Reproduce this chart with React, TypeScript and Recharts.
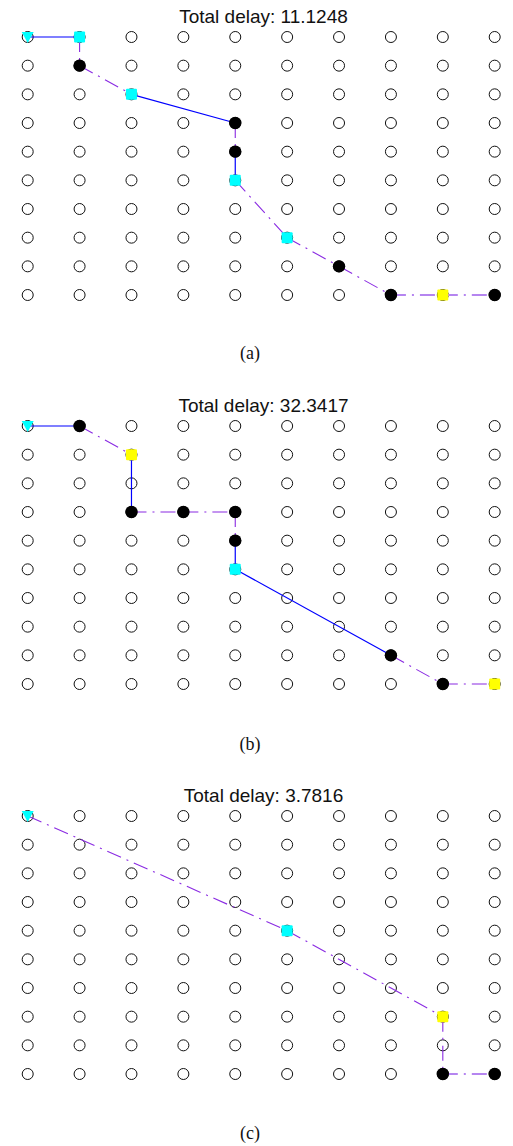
import { ScatterChart, Scatter, XAxis, YAxis } from "recharts";

const cols = [0, 1, 2, 3, 4, 5, 6, 7, 8, 9];
const rows = [0, 1, 2, 3, 4, 5, 6, 7, 8, 9];

const titles = ["Total delay: 11.1248", "Total delay: 32.3417", "Total delay: 3.7816"];
const captions = ["(a)", "(b)", "(c)"];

// route nodes (column, row from top) and marker kind
const pathA = [
  { x: 0, y: 0, m: "start" },
  { x: 1, y: 0, m: "cyan" },
  { x: 1, y: 1, m: "black" },
  { x: 2, y: 2, m: "cyan" },
  { x: 4, y: 3, m: "black" },
  { x: 4, y: 4, m: "black" },
  { x: 4, y: 5, m: "cyan" },
  { x: 5, y: 7, m: "cyan" },
  { x: 6, y: 8, m: "black" },
  { x: 7, y: 9, m: "black" },
  { x: 8, y: 9, m: "yellow" },
  { x: 9, y: 9, m: "black" },
];
const linksA = ["blue", "purple", "purple", "blue", "purple", "blue", "purple", "purple", "purple", "light", "light"];

const pathB = [
  { x: 0, y: 0, m: "start" },
  { x: 1, y: 0, m: "black" },
  { x: 2, y: 1, m: "yellow" },
  { x: 2, y: 3, m: "black" },
  { x: 3, y: 3, m: "black" },
  { x: 4, y: 3, m: "black" },
  { x: 4, y: 4, m: "black" },
  { x: 4, y: 5, m: "cyan" },
  { x: 7, y: 8, m: "black" },
  { x: 8, y: 9, m: "black" },
  { x: 9, y: 9, m: "yellow" },
];
const linksB = ["blue", "purple", "blue", "purple", "purple", "purple", "blue", "blue", "purple", "purple"];

const pathC = [
  { x: 0, y: 0, m: "start" },
  { x: 5, y: 4, m: "cyan" },
  { x: 8, y: 7, m: "yellow" },
  { x: 8, y: 9, m: "black" },
  { x: 9, y: 9, m: "black" },
];
const linksC = ["purple", "purple", "purple", "light"];

const paths = [pathA, pathB, pathC];
const links = [linksA, linksB, linksC];

const gridNodes = rows.flatMap((r) => cols.map((c) => ({ x: c, y: r })));

const W = 513;
const PANEL_TOPS = [0, 389, 779];
const CHART_H = 310;
const MARGIN = { top: 37, right: 18.3, bottom: 15, left: 27.7 };

const DASHDOT = "15 6 2 6";
const lineStyles: Record<string, any> = {
  blue: { stroke: "#0000ff", strokeWidth: 1.2 },
  purple: { stroke: "#8a2be2", strokeWidth: 1.1, strokeDasharray: DASHDOT },
  light: { stroke: "#b585f0", strokeWidth: 2, strokeDasharray: DASHDOT },
};

const OpenDot = (p: any) => (
  <circle cx={p.cx} cy={p.cy} r={5.5} fill="none" stroke="#111" strokeWidth={1} />
);

const NoDot = () => <g />;

const RouteMarker = (p: any) => {
  const { cx, cy, payload } = p;
  switch (payload.m) {
    case "start":
      return (
        <polygon
          points={`${cx - 6},${cy - 5} ${cx + 6},${cy - 5} ${cx},${cy + 6}`}
          fill="#00ffff"
        />
      );
    case "cyan":
      return <rect x={cx - 5.5} y={cy - 5.5} width={11} height={11} rx={1} fill="#00ffff" />;
    case "yellow":
      return <rect x={cx - 5.5} y={cy - 5.5} width={11} height={11} rx={1} fill="#ffff00" />;
    default:
      return <circle cx={cx} cy={cy} r={6.2} fill="#000" />;
  }
};

function Panel({ idx }: { idx: number }) {
  const path = paths[idx];
  const segs = links[idx];
  return (
    <div style={{ position: "absolute", left: 0, top: PANEL_TOPS[idx] }}>
      <ScatterChart width={W} height={CHART_H} margin={MARGIN}>
        <XAxis type="number" dataKey="x" domain={[0, 9]} hide />
        <YAxis type="number" dataKey="y" domain={[0, 9]} reversed hide />
        <Scatter data={gridNodes} shape={OpenDot} isAnimationActive={false} />
        {segs.map((s, i) => (
          <Scatter
            key={`seg-${i}`}
            data={[path[i], path[i + 1]]}
            line={lineStyles[s]}
            shape={NoDot}
            isAnimationActive={false}
          />
        ))}
        <Scatter data={path} shape={RouteMarker} isAnimationActive={false} />
      </ScatterChart>
    </div>
  );
}

export default function App() {
  return (
    <div style={{ position: "absolute", left: 0, top: 0, width: W, height: 1146, background: "#fff" }}>
      {[0, 1, 2].map((i) => (
        <Panel key={i} idx={i} />
      ))}
      <svg width={W} height={1146} style={{ position: "absolute", left: 0, top: 0, pointerEvents: "none" }}>
        {titles.map((t, i) => (
          <text
            key={t}
            x={263.5}
            y={PANEL_TOPS[i] + 22.5}
            textAnchor="middle"
            fontFamily="'Liberation Sans', Arial, sans-serif"
            fontSize={19}
            fill="#111"
          >
            {t}
          </text>
        ))}
        {captions.map((c, i) => (
          <text
            key={c}
            x={250}
            y={[359, 750, 1139][i]}
            textAnchor="middle"
            fontFamily="'Liberation Serif', 'Times New Roman', serif"
            fontSize={18}
            fill="#111"
          >
            {c}
          </text>
        ))}
      </svg>
    </div>
  );
}
